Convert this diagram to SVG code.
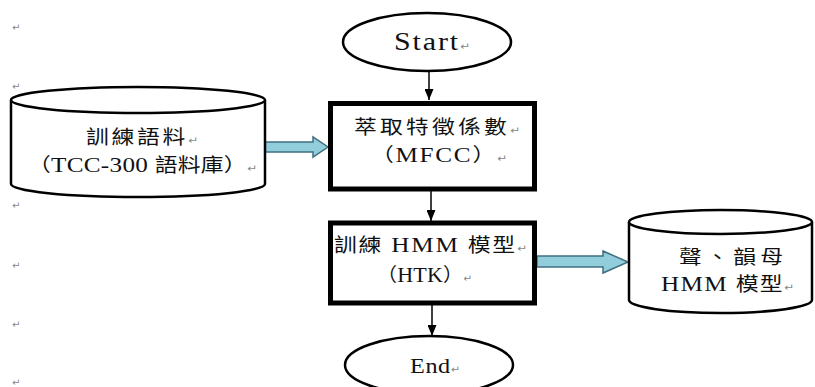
<svg xmlns="http://www.w3.org/2000/svg" width="815" height="387" viewBox="0 0 815 387">
<defs>
<style>
.t{font-family:'Noto Sans CJK TC','Liberation Serif',sans-serif;fill:#111;font-size:19px;}
.l{font-family:'Liberation Serif','DejaVu Serif',serif;}
.pm{font-family:'DejaVu Sans',sans-serif;font-size:10px;fill:#888;}
.shape{fill:#fff;stroke:#000;stroke-width:2.5;}
.box{fill:#fff;stroke:#000;stroke-width:5;}
.line{stroke:#000;stroke-width:1.5;fill:none;}
.blue{fill:#92CDDC;stroke:#3f6f80;stroke-width:1.5;stroke-linejoin:miter;}
</style>
<marker id="ah" markerUnits="userSpaceOnUse" markerWidth="12" markerHeight="9" refX="11" refY="4.5" orient="auto">
<path d="M0,0 L11,4.5 L0,9 Z" fill="#000"/>
</marker>
</defs>

<g id="margin-marks">
<text class="pm" x="12" y="31">↵</text>
<text class="pm" x="12" y="90">↵</text>
<text class="pm" x="12" y="209">↵</text>
<text class="pm" x="12" y="269">↵</text>
<text class="pm" x="12" y="328">↵</text>
<text class="pm" x="12" y="386">↵</text>
</g>

<g id="connectors">
<line class="line" x1="429" y1="71" x2="429" y2="100" marker-end="url(#ah)"/>
<line class="line" x1="431" y1="191" x2="431" y2="221" marker-end="url(#ah)"/>
<line class="line" x1="432" y1="305" x2="432" y2="336" marker-end="url(#ah)"/>
<polygon class="blue" points="263,142 313,142 313,137 328,147 313,157 313,152 263,152"/>
<polygon class="blue" points="537,256 603,256 603,251 628,262 603,273 603,267 537,267"/>
</g>

<g id="start">
<ellipse class="shape" cx="427" cy="42" rx="84" ry="29" stroke-width="2"/>
<text class="t" transform="translate(394,50) scale(1.2,1)" textLength="63.3" lengthAdjust="spacing"><tspan class="l" style="font-size:25px">Start</tspan><tspan class="pm">↵</tspan></text>
</g>

<g id="corpus">
<path class="shape" d="M11,100 V184 A127,13 0 0 0 265,184 V100"/>
<ellipse class="shape" cx="138" cy="100" rx="127" ry="13"/>
<text class="t" transform="translate(86,144) scale(1.2,1)" textLength="93.3" lengthAdjust="spacing">訓練語料<tspan class="pm">↵</tspan></text>
<text class="t" transform="translate(28,172) scale(1.2,1)" textLength="190.8" lengthAdjust="spacing">（<tspan class="l" style="font-size:21px">TCC-300 </tspan>語料庫）<tspan class="pm">↵</tspan></text>
</g>

<g id="mfcc">
<rect class="box" x="330.5" y="103.5" width="204" height="85.5"/>
<text class="t" transform="translate(354,134) scale(1.2,1)" textLength="138.3" lengthAdjust="spacing">萃取特徵係數<tspan class="pm">↵</tspan></text>
<text class="t" transform="translate(371,162) scale(1.2,1)" textLength="113.3" lengthAdjust="spacing">（<tspan class="l" style="font-size:21px">MFCC</tspan>）<tspan class="pm">↵</tspan></text>
</g>

<g id="htk">
<rect class="box" x="330.5" y="223" width="204" height="80" stroke-width="4.5"/>
<text class="t" transform="translate(334,252) scale(1.2,1)" textLength="160.8" lengthAdjust="spacing">訓練<tspan class="l" style="font-size:21px"> HMM </tspan>模型<tspan class="pm">↵</tspan></text>
<text class="t" transform="translate(377,282) scale(1.05,1)" textLength="90.5" lengthAdjust="spacing">（<tspan class="l" style="font-size:21px">HTK</tspan>）<tspan class="pm">↵</tspan></text>
</g>

<g id="models">
<path class="shape" d="M629,222 V300 A91.5,13 0 0 0 812,300 V222"/>
<ellipse class="shape" cx="720.5" cy="222" rx="91.5" ry="12"/>
<text class="t" transform="translate(679,264) scale(1.2,1)" textLength="86.7" lengthAdjust="spacing">聲、韻母</text>
<text class="t" transform="translate(661,291) scale(1.2,1)" textLength="110.8" lengthAdjust="spacing"><tspan class="l" style="font-size:21px">HMM </tspan>模型<tspan class="pm">↵</tspan></text>
</g>

<g id="end">
<ellipse class="shape" cx="429" cy="365" rx="84" ry="29" stroke-width="2"/>
<text class="t" transform="translate(410,373) scale(1.1,1)" textLength="45.5" lengthAdjust="spacing"><tspan class="l" style="font-size:22px">End</tspan><tspan class="pm">↵</tspan></text>
</g>
</svg>
